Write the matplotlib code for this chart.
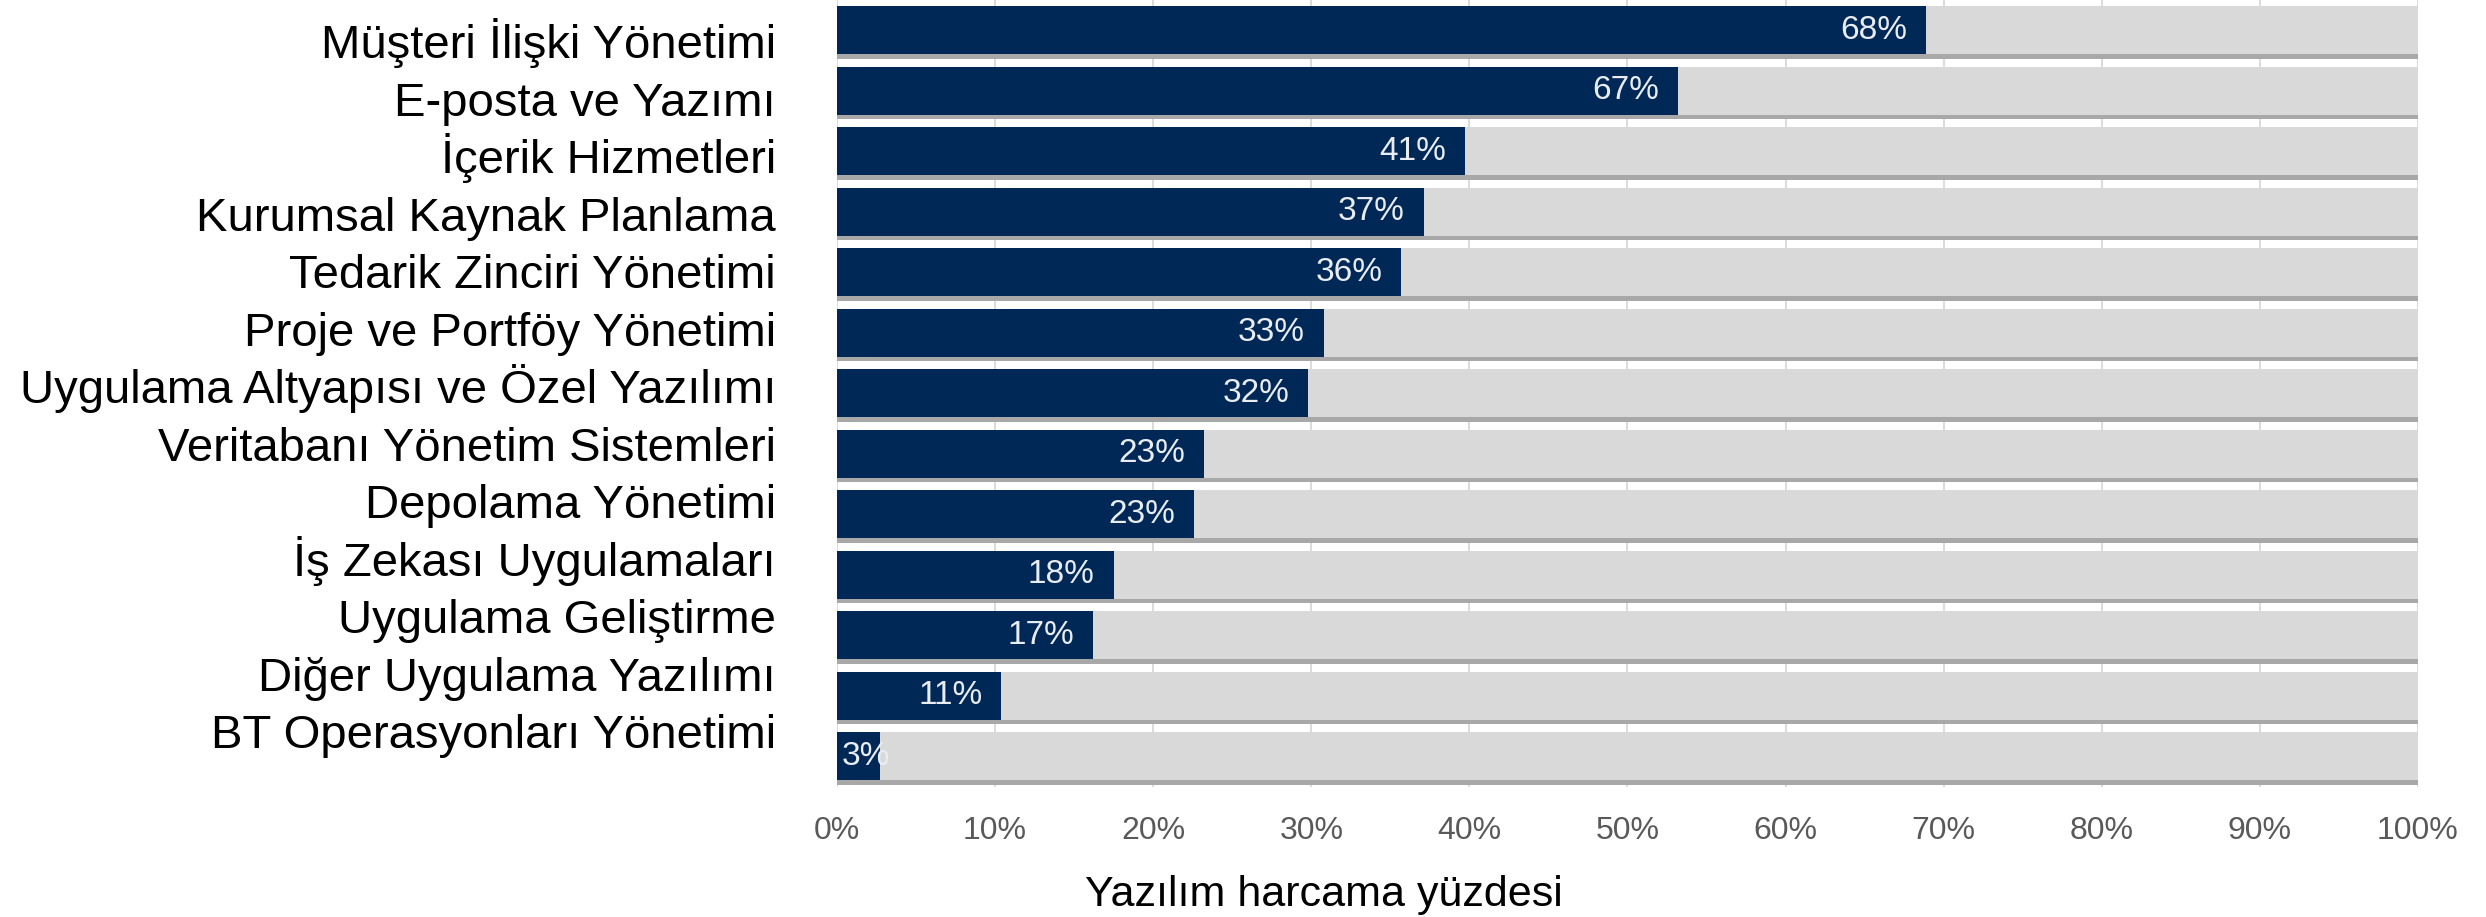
import matplotlib
matplotlib.use('Agg')
from matplotlib import pyplot as plt

# Categories, top to bottom
categories = [
    'Müşteri İlişki Yönetimi',
    'E-posta ve Yazımı',
    'İçerik Hizmetleri',
    'Kurumsal Kaynak Planlama',
    'Tedarik Zinciri Yönetimi',
    'Proje ve Portföy Yönetimi',
    'Uygulama Altyapısı ve Özel Yazılımı',
    'Veritabanı Yönetim Sistemleri',
    'Depolama Yönetimi',
    'İş Zekası Uygulamaları',
    'Uygulama Geliştirme',
    'Diğer Uygulama Yazılımı',
    'BT Operasyonları Yönetimi',
]
# bar lengths as drawn in the picture (percent)
bar_values = [68.9, 53.2, 39.7, 37.1, 35.7, 30.8, 29.8, 23.2, 22.6, 17.5, 16.2, 10.4, 2.7]
# labels printed on the bars
bar_labels = ['68%', '67%', '41%', '37%', '36%', '33%', '32%',
              '23%', '23%', '18%', '17%', '11%', '3%']
x_ticks = [0, 10, 20, 30, 40, 50, 60, 70, 80, 90, 100]
x_tick_labels = ['0%', '10%', '20%', '30%', '40%', '50%', '60%',
                 '70%', '80%', '90%', '100%']


def main():
    plt.rcParams['font.family'] = ['Liberation Sans', 'DejaVu Sans']

    W, H = 2486, 917
    fig = plt.figure(figsize=(W / 100, H / 100), dpi=100)
    ax = fig.add_axes([0.3367, 0.1423, 0.6359, 0.8577])

    ypos = list(range(len(categories)))
    bar_h = 0.79

    # shadow under the background bars
    ax.barh([y + 0.075 for y in ypos], [100] * len(ypos), height=bar_h,
            color='#a8a8a8', zorder=1)
    # light grey track
    ax.barh(ypos, [100] * len(ypos), height=bar_h, color='#d9d9d9', zorder=2)
    # navy value bars
    ax.barh(ypos, bar_values, height=bar_h, color='#002856', zorder=3)

    # value labels
    for y, v, lab in zip(ypos, bar_values, bar_labels):
        if v > 6:
            ax.text(v - 1.2, y, lab, ha='right', va='center',
                    color='#e9edf2', fontsize=24, zorder=4)
        else:
            ax.text(0.3, y, lab, ha='left', va='center',
                    color='#e9edf2', fontsize=24, zorder=4)

    # grid
    ax.set_axisbelow(True)
    ax.grid(axis='x', color='#d4d4d4', linewidth=1.2, zorder=0)

    ax.set_xlim(0, 100)
    ax.set_ylim(len(categories) - 0.5, -0.5)

    ax.set_xticks(x_ticks)
    ax.set_xticklabels(x_tick_labels, fontsize=23, color='#595959')
    ax.set_yticks([])
    ax.tick_params(axis='x', length=0, pad=21)

    for s in ax.spines.values():
        s.set_visible(False)

    # category labels sit on their own, slightly tighter pitch
    first_base, pitch = 58.3, 57.5
    for i, name in enumerate(categories):
        yb = 1 - (first_base + i * pitch) / H
        fig.text(776 / W, yb, name, ha='right', va='baseline',
                 fontsize=34, color='black')

    fig.text(0.5325, 0.024, 'Yazılım harcama yüzdesi', ha='center',
             va='center', fontsize=31, color='black')

    fig.savefig('out.png', dpi=100)


if __name__ == '__main__':
    main()
